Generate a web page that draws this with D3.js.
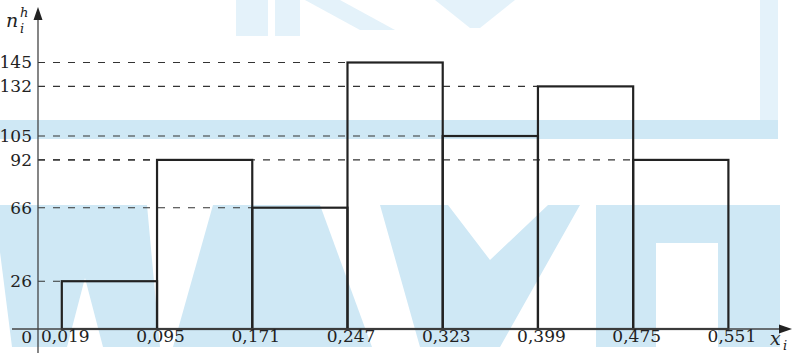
<!DOCTYPE html>
<html>
<head>
<meta charset="utf-8">
<script src="https://cdn.jsdelivr.net/npm/d3@7"></script>
<style>
  body { margin: 0; background: #fff; }
  svg { display: block; }
</style>
</head>
<body>
<svg id="chart" width="798" height="353"></svg>
<script>
// histogram data
var edges = [0.019, 0.095, 0.171, 0.247, 0.323, 0.399, 0.475, 0.551];
var counts = [26, 92, 66, 145, 105, 132, 92];
var yTicks = [26, 66, 92, 105, 132, 145];

var serif = "'DejaVu Serif', serif";

// faint watermark behind the chart (decoration only)
var watermark = [
  [[0,120],[778,120],[778,139],[0,139]],
  [[0,205],[147,205],[160,347],[103,347],[85,278],[67,347],[12,347],[0,252]],
  [[213,205],[320,205],[372,347],[173,347]],
  [[380,205],[448,205],[490,260],[548,205],[580,205],[500,347],[420,347]],
  [[596,205],[780,205],[780,347],[718,347],[718,243],[656,243],[656,347],[596,347]]
];
var watermarkFaint = [
  [[760,0],[778,0],[778,120],[760,120]],
  [[236,0],[268,0],[268,36],[236,36]],
  [[275,0],[300,0],[300,36],[275,36]],
  [[305,0],[340,0],[395,30],[360,30]],
  [[435,0],[515,0],[480,28],[470,28]]
];

var svg = d3.select("#chart");

var x = d3.scaleLinear()
  .domain([0, 0.551])
  .range([38, 728.4]);

var y = d3.scaleLinear()
  .domain([0, 145])
  .range([329, 62.5]);

svg.append("g")
  .selectAll("polygon")
  .data(watermark)
  .enter().append("polygon")
  .attr("points", function(d) { return d.join(" "); })
  .attr("fill", "#cfe8f5");
svg.append("g")
  .selectAll("polygon")
  .data(watermarkFaint)
  .enter().append("polygon")
  .attr("points", function(d) { return d.join(" "); })
  .attr("fill", "#e4f2fa");

// dashed guides from the axis to each bar
svg.append("g")
  .selectAll("line")
  .data(counts)
  .enter().append("line")
  .attr("x1", x(0))
  .attr("x2", function(d, i) { return x(edges[i]); })
  .attr("y1", function(d) { return y(d); })
  .attr("y2", function(d) { return y(d); })
  .attr("stroke", "#333")
  .attr("stroke-width", 1.1)
  .attr("stroke-dasharray", "7,8");

// bars
svg.append("g")
  .selectAll("rect")
  .data(counts)
  .enter().append("rect")
  .attr("x", function(d, i) { return x(edges[i]); })
  .attr("y", function(d) { return y(d); })
  .attr("width", function(d, i) { return x(edges[i + 1]) - x(edges[i]); })
  .attr("height", function(d) { return y(0) - y(d); })
  .attr("fill", "none")
  .attr("stroke", "#222")
  .attr("stroke-width", 2.2);

// axes lines + arrows
svg.append("line")
  .attr("x1", 12).attr("x2", 784)
  .attr("y1", y(0)).attr("y2", y(0))
  .attr("stroke", "#444").attr("stroke-width", 1.3);
svg.append("path")
  .attr("d", "M792," + y(0) + "L779," + (y(0) - 4.5) + "L779," + (y(0) + 4.5) + "Z")
  .attr("fill", "#222");
svg.append("line")
  .attr("x1", x(0)).attr("x2", x(0))
  .attr("y1", 353).attr("y2", 16)
  .attr("stroke", "#444").attr("stroke-width", 1.3);
svg.append("path")
  .attr("d", "M" + x(0) + ",7L" + (x(0) - 4.5) + ",20L" + (x(0) + 4.5) + ",20Z")
  .attr("fill", "#222");

// tick labels
var xAxis = d3.axisBottom(x)
  .tickValues(edges)
  .tickSize(0)
  .tickPadding(1)
  .tickFormat(function(d) { return d3.format(".3f")(d).replace(".", ","); });
var gx = svg.append("g")
  .attr("transform", "translate(0," + y(0) + ")")
  .call(xAxis);
gx.select(".domain").remove();
gx.selectAll("text")
  .attr("dx", 3)
  .attr("fill", "#222")
  .style("font-family", serif)
  .style("font-size", "17px");

var yAxis = d3.axisLeft(y)
  .tickValues(yTicks)
  .tickSize(0)
  .tickPadding(6);
var gy = svg.append("g")
  .attr("transform", "translate(" + x(0) + ",0)")
  .call(yAxis);
gy.select(".domain").remove();
gy.selectAll("text")
  .attr("fill", "#222")
  .style("font-family", serif)
  .style("font-size", "17px");

svg.append("text")
  .attr("x", 32).attr("y", 343)
  .attr("text-anchor", "end")
  .attr("fill", "#222")
  .style("font-family", serif)
  .style("font-size", "17px")
  .text("0");

// axis titles
function lbl(tx, ty, size, s) {
  svg.append("text")
    .attr("x", tx).attr("y", ty)
    .attr("fill", "#222")
    .style("font-family", serif)
    .style("font-style", "italic")
    .style("font-size", size + "px")
    .text(s);
}
lbl(6, 27, 19, "n");
lbl(20, 17, 13, "h");
lbl(20, 33, 13, "i");
lbl(770, 345, 19, "x");
lbl(783, 350, 13, "i");
</script>
</body>
</html>
